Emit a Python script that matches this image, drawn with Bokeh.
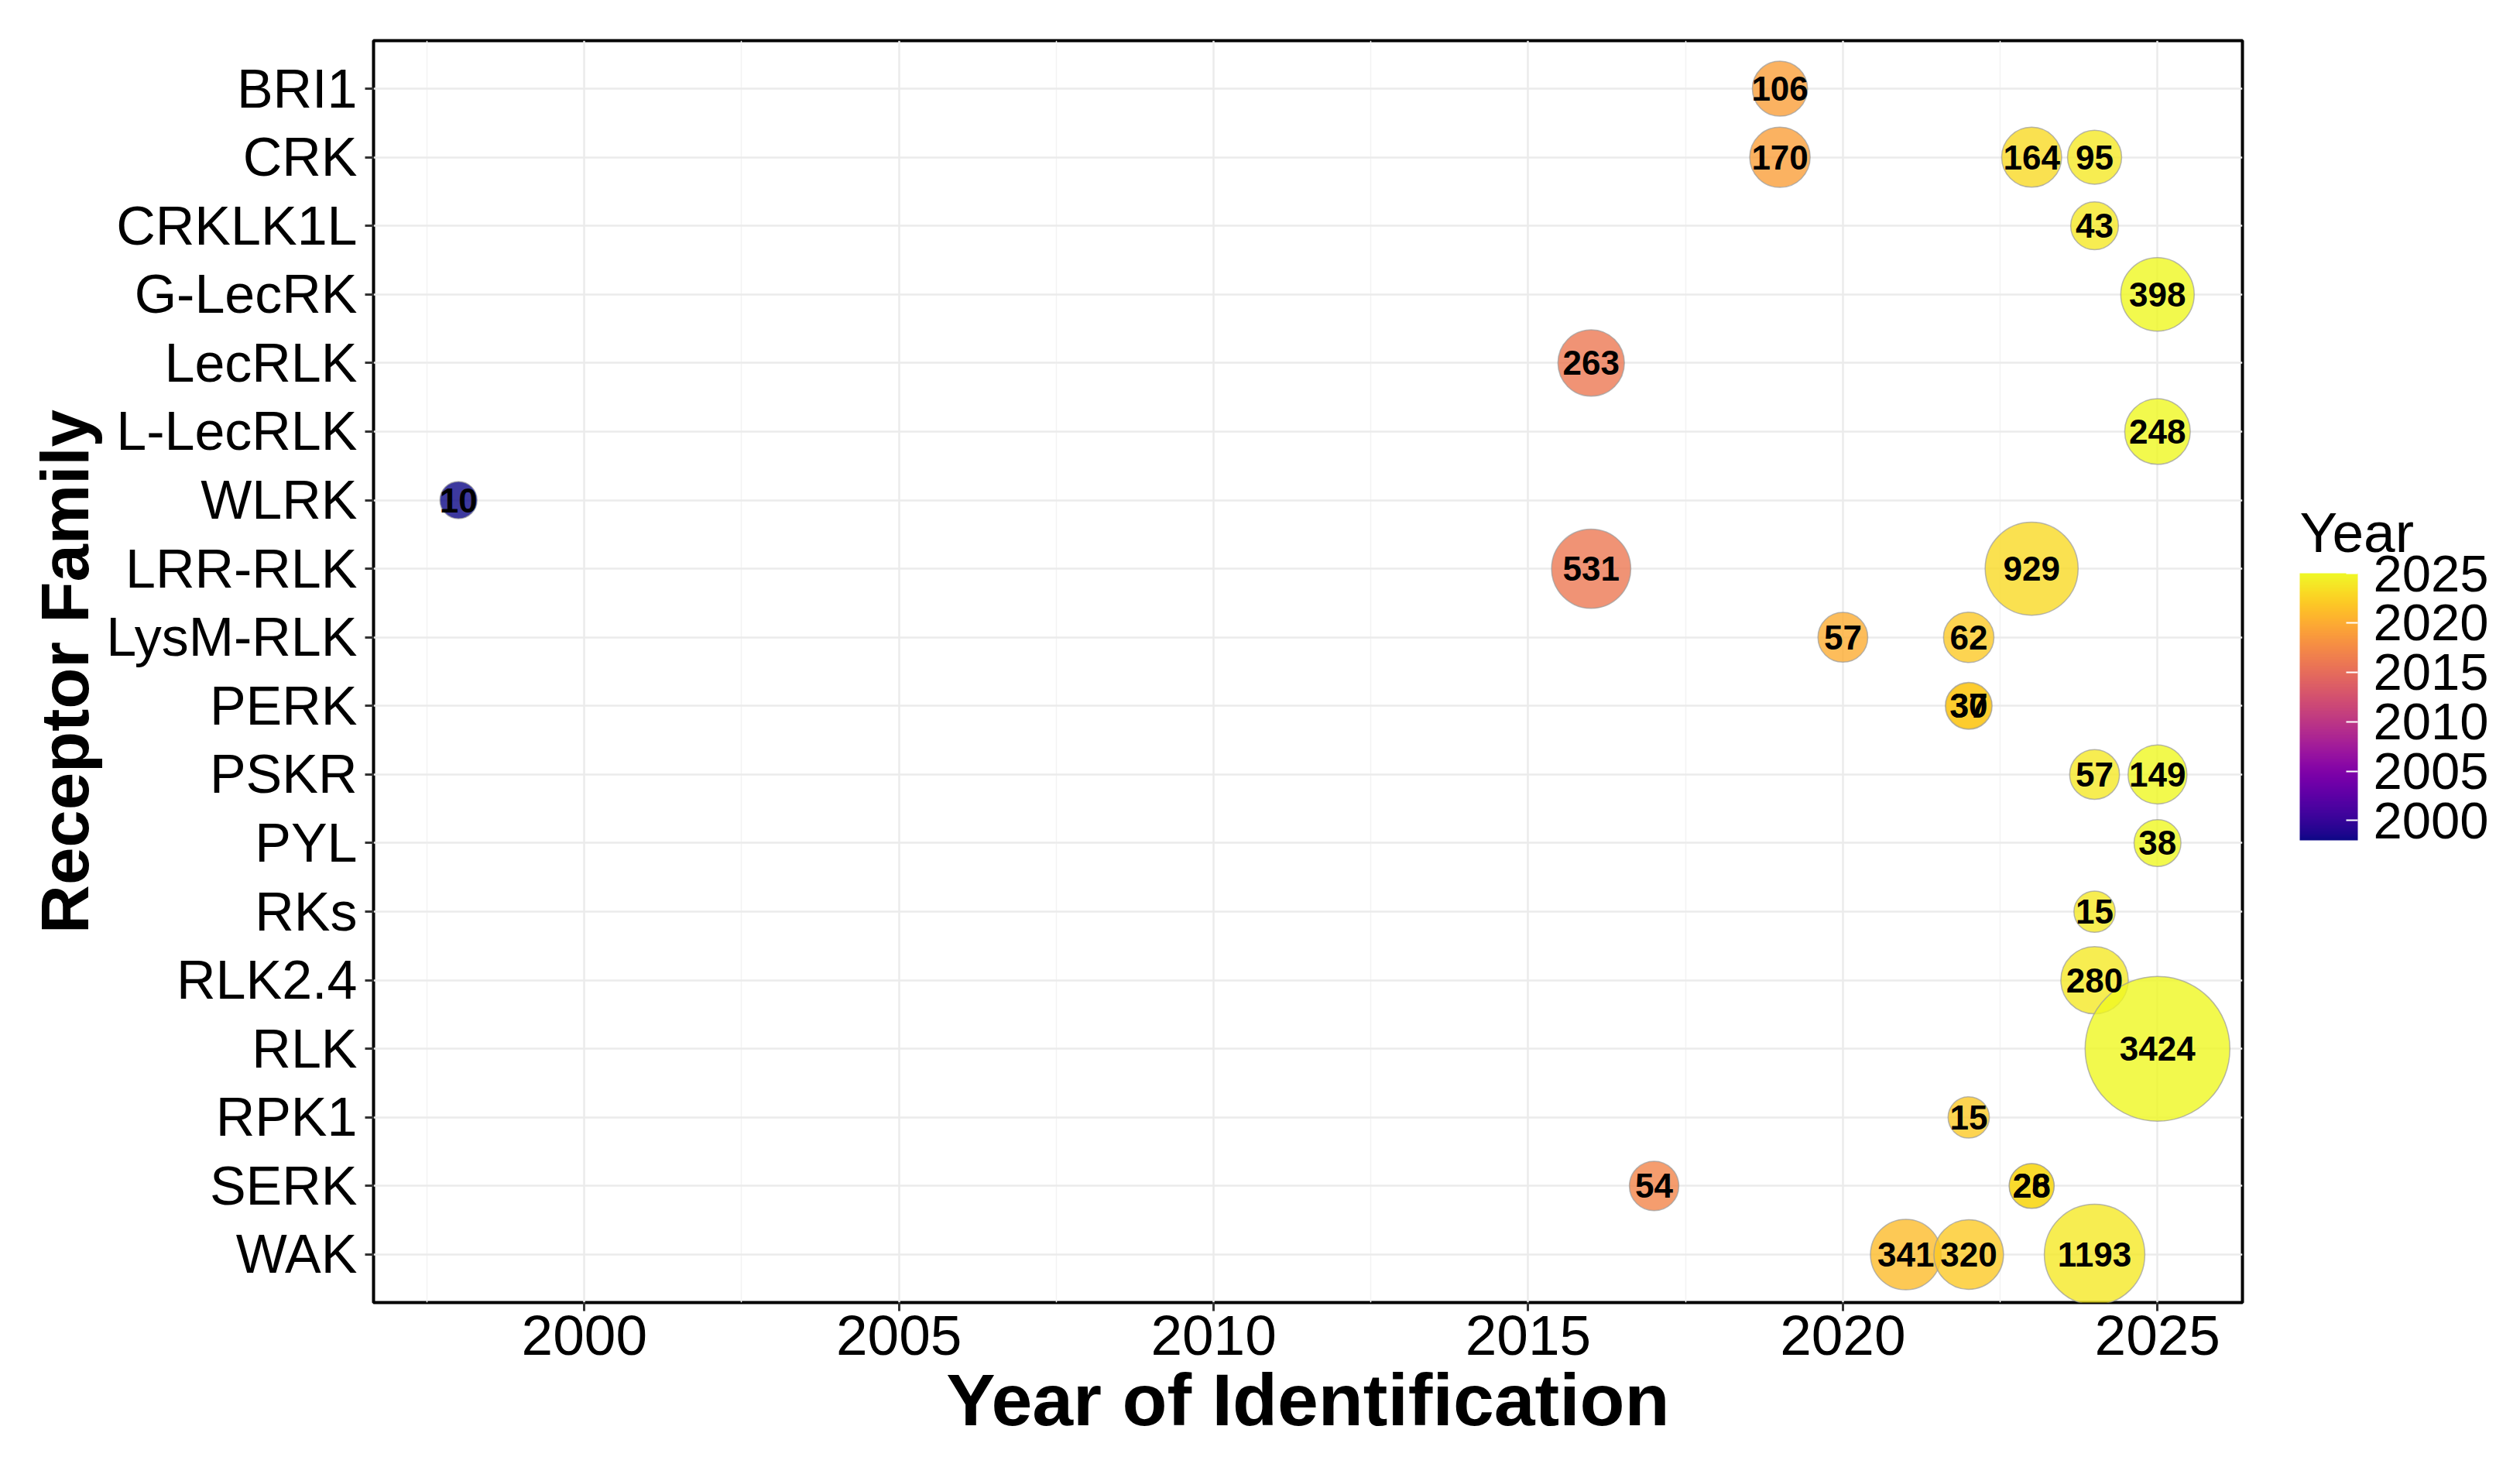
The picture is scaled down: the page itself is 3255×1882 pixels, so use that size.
import math
from bokeh.plotting import figure
from bokeh.models import (ColumnDataSource, FactorRange, Range1d, LinearColorMapper,
                          ColorBar, FixedTicker)
from bokeh.palettes import Plasma256
from bokeh.core.properties import value
from bokeh.embed import file_html
from bokeh.resources import INLINE

# ---- data ----
families = ["BRI1", "CRK", "CRKLK1L", "G-LecRK", "LecRLK", "L-LecRLK", "WLRK",
            "LRR-RLK", "LysM-RLK", "PERK", "PSKR", "PYL", "RKs", "RLK2.4", "RLK",
            "RPK1", "SERK", "WAK"]

point_family = ["BRI1", "CRK", "CRK", "CRK", "CRKLK1L", "G-LecRK", "LecRLK",
                "L-LecRLK", "WLRK", "LRR-RLK", "LRR-RLK", "LysM-RLK", "LysM-RLK",
                "PERK", "PERK", "PSKR", "PSKR", "PYL", "RKs", "RLK2.4", "RLK",
                "RPK1", "SERK", "SERK", "SERK", "WAK", "WAK", "WAK"]
point_year = [2019, 2019, 2023, 2024, 2024, 2025, 2016,
              2025, 1998, 2016, 2023, 2020, 2022,
              2022, 2022, 2024, 2025, 2025, 2024, 2024, 2025,
              2022, 2017, 2023, 2023, 2021, 2022, 2024]
point_count = [106, 170, 164, 95, 43, 398, 263,
               248, 10, 531, 929, 57, 62,
               30, 37, 57, 149, 38, 15, 280, 3424,
               15, 54, 26, 28, 341, 320, 1193]

x_ticks = [2000, 2005, 2010, 2015, 2020, 2025]
x_minor = [1997.5, 2002.5, 2007.5, 2012.5, 2017.5, 2022.5]
cbar_ticks = [2000, 2005, 2010, 2015, 2020, 2025]

FONT = "Liberation Sans"

# size scale (area-type mapping, diameters in px)
cmin, cmax = min(point_count), max(point_count)
dmin, dmax = 48, 187
sizes = [dmin + (dmax - dmin) * math.sqrt((c - cmin) / (cmax - cmin)) for c in point_count]

src = ColumnDataSource(dict(family=point_family, year=point_year, count=point_count,
                            label=[str(c) for c in point_count], size=sizes))

mapper = LinearColorMapper(palette=Plasma256, low=1998, high=2025)

W, H = 3240, 1875
FL, FT, FR, FB = 482, 52, 2896, 1682   # frame edges in figure px
p = figure(width=W, height=H, output_backend="svg", toolbar_location=None,
           x_range=Range1d(1996.65, 2026.35),
           y_range=FactorRange(factors=list(reversed(families)), range_padding=0.2,
                               range_padding_units="absolute"),
           min_border_left=FL, min_border_top=FT,
           min_border_right=W - FR, min_border_bottom=H - FB)

p.background_fill_color = "white"
p.border_fill_color = "white"
p.outline_line_color = "black"
p.outline_line_width = 4

p.scatter(x="year", y="family", size="size", source=src,
          fill_color={"field": "year", "transform": mapper}, fill_alpha=0.8,
          line_color="#9a9a9a", line_alpha=0.7, line_width=1.5)
p.text(x="year", y="family", text="label", source=src, text_align="center",
       text_baseline="middle", text_font=value(FONT), text_font_style="bold",
       text_font_size="44px", text_color="black")

# axes
p.xaxis.ticker = FixedTicker(ticks=x_ticks, minor_ticks=x_minor)
for ax in (p.xaxis[0], p.yaxis[0]):
    ax.axis_line_color = None
    ax.major_tick_in = 0
    ax.major_tick_out = 11
    ax.major_tick_line_color = "#333333"
    ax.major_tick_line_width = 3
    ax.minor_tick_line_color = None
    ax.major_label_text_font = FONT
    ax.major_label_text_color = "black"
    ax.axis_label_text_font = FONT
    ax.axis_label_text_font_style = "bold"
    ax.axis_label_text_color = "black"

p.xaxis.major_label_text_font_size = "73px"
p.yaxis.major_label_text_font_size = "70px"
p.xaxis.axis_label = "Year of Identification"
p.xaxis.axis_label_text_font_size = "95px"
p.xaxis.major_label_standoff = 6
p.xaxis.axis_label_standoff = 2
p.yaxis.axis_label = "Receptor Family"
p.yaxis.axis_label_text_font_size = "87px"
p.yaxis.major_label_standoff = 10
p.yaxis.axis_label_standoff = 2

p.xgrid.grid_line_color = "#EBEBEB"
p.xgrid.grid_line_width = 2.5
p.xgrid.minor_grid_line_color = "#F3F3F3"
p.xgrid.minor_grid_line_width = 1.5
p.ygrid.grid_line_color = "#EBEBEB"
p.ygrid.grid_line_width = 2.5

cb = ColorBar(color_mapper=mapper, ticker=FixedTicker(ticks=cbar_ticks),
              width=75, height=345, location=(2970 - FL, FB - 1085),
              orientation="vertical",
              major_label_text_font=FONT, major_label_text_font_size="67px",
              major_label_text_color="black", label_standoff=20,
              major_tick_line_color="white", major_tick_line_width=2,
              major_tick_in=15, major_tick_out=0, bar_line_color=None,
              background_fill_color=None, border_line_color=None,
              padding=0, margin=0)
p.add_layout(cb, "center")

# horizontal "Year" heading: title of an empty, transparent horizontal colour bar
head = ColorBar(color_mapper=mapper, ticker=FixedTicker(ticks=[]),
                orientation="horizontal", width=75, height=1, scale_alpha=0,
                location=(2970 - FL, FB - 728),
                title="Year", title_text_font=FONT, title_text_font_size="73px",
                title_text_font_style="normal", title_text_color="black",
                title_standoff=0, major_label_text_alpha=0,
                major_tick_line_color=None, minor_tick_line_color=None,
                bar_line_color=None, background_fill_color=None,
                border_line_color=None, padding=0, margin=0)
p.add_layout(head, "center")

open("out.html", "w").write(file_html(p, INLINE))
